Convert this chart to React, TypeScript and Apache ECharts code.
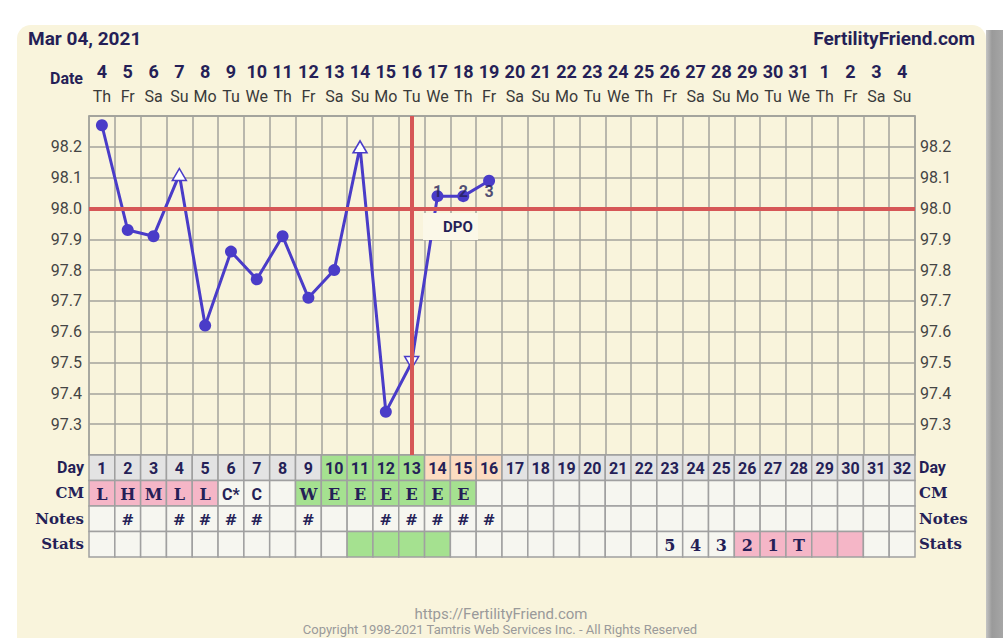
import React, { useEffect, useRef } from 'react';
import * as echarts from 'echarts';

const NAVY = '#251f57';
const SLAB = "'DejaVu Serif', serif";
const SANS = "Roboto, 'Noto Sans', sans-serif";

const dateNumbers = ['4','5','6','7','8','9','10','11','12','13','14','15','16','17','18','19','20','21','22','23','24','25','26','27','28','29','30','31','1','2','3','4'];
const weekdays = ['Th','Fr','Sa','Su','Mo','Tu','We','Th','Fr','Sa','Su','Mo','Tu','We','Th','Fr','Sa','Su','Mo','Tu','We','Th','Fr','Sa','Su','Mo','Tu','We','Th','Fr','Sa','Su'];
const cycleDays = ['1','2','3','4','5','6','7','8','9','10','11','12','13','14','15','16','17','18','19','20','21','22','23','24','25','26','27','28','29','30','31','32'];

const temperatures = [98.27, 97.93, 97.91, 98.11, 97.62, 97.86, 97.77, 97.91, 97.71, 97.80, 98.20, 97.34, 97.50, 98.04, 98.04, 98.09];
const openUpDays = [4, 11];
const openDownDays = [13];
const coverline = 98.0;
const ovulationDay = 13;
const dpoDays = [14, 15, 16];
const dpoLabels = ['1', '2', '3'];
const dpoLabelLevel = 98.055;
const tempMin = 97.2;
const tempMax = 98.3;
const tempStep = 0.1;

const rowLabels = ['Day', 'CM', 'Notes', 'Stats'];
const cmValues = ['L','H','M','L','L','C*','C','','W','E','E','E','E','E','E','','','','','','','','','','','','','','','','',''];
const cmPeriodDays = [1, 2, 3, 4, 5];
const cmFertileDays = [9, 10, 11, 12, 13, 14, 15];
const notesDays = [2, 4, 5, 6, 7, 9, 12, 13, 14, 15, 16];
const fertileDays = [10, 11, 12, 13];
const postOvDays = [14, 15, 16];
const statsFertileDays = [11, 12, 13, 14];
const statsPeriodDays = [26, 27, 28, 29, 30];
const statsCountDays = [23, 24, 25, 26, 27, 28];
const statsCountLabels = ['5', '4', '3', '2', '1', 'T'];

const C_PLAIN = '#f6f6f0';
const C_GRAY = '#e3e3e3';
const C_GREEN = '#a5e190';
const C_PINK = '#f5b6c7';
const C_PEACH = '#fcdcc1';
const LINE = '#4a3cc8';
const RED = '#d65757';
const GRIDC = '#a3a39c';

type Cell = { col: number; row: number; text: string; fill: string; font: string };

function buildCells(): Cell[] {
  const cells: Cell[] = [];
  const slab = (s: number) => `bold ${s}px ${SLAB}`;
  for (let i = 0; i < 32; i++) {
    const d = i + 1;
    let fill = C_GRAY;
    if (fertileDays.includes(d)) fill = C_GREEN;
    else if (postOvDays.includes(d)) fill = C_PEACH;
    cells.push({ col: i, row: 0, text: cycleDays[i], fill, font: `bold 16px ${SANS}` });

    let cf = C_PLAIN;
    if (cmPeriodDays.includes(d)) cf = C_PINK;
    else if (cmFertileDays.includes(d)) cf = C_GREEN;
    cells.push({ col: i, row: 1, text: cmValues[i], fill: cf, font: cmValues[i].startsWith('C') ? `bold 16px ${SANS}` : slab(16) });

    cells.push({ col: i, row: 2, text: notesDays.includes(d) ? '#' : '', fill: C_PLAIN, font: slab(15) });

    let sf = C_PLAIN;
    if (statsFertileDays.includes(d)) sf = C_GREEN;
    else if (statsPeriodDays.includes(d)) sf = C_PINK;
    const k = statsCountDays.indexOf(d);
    cells.push({ col: i, row: 3, text: k >= 0 ? statsCountLabels[k] : '', fill: sf, font: slab(16) });
  }
  return cells;
}

export default function App() {
  const ref = useRef<HTMLDivElement>(null);
  useEffect(() => {
    if (!ref.current) return;
    const chart = echarts.init(ref.current, undefined, { renderer: 'svg' });
    const cells = buildCells();

    const lineData = temperatures.map((v, i) => {
      const d = i + 1;
      if (openUpDays.includes(d) || openDownDays.includes(d)) {
        return {
          value: v,
          symbol: 'triangle',
          symbolSize: [14, 12],
          symbolRotate: openDownDays.includes(d) ? 180 : 0,
          itemStyle: { color: '#ffffff', borderColor: LINE, borderWidth: 1.5 },
        };
      }
      return { value: v };
    });

    const tempLabel = (v: number) =>
      v < tempMin + tempStep / 2 || v > tempMax - tempStep / 2 ? '' : v.toFixed(1);

    const rowRich = {
      day: { fontFamily: SANS, fontWeight: 'bold', fontSize: 16, color: NAVY },
      slab: { fontFamily: SLAB, fontWeight: 'bold', fontSize: 15, color: NAVY, letterSpacing: -0.5 },
    };
    const rowFormatter = (v: string) => (v === 'Day' ? `{day|${v}}` : `{slab|${v}}`);

    const option: any = {
      animation: false,
      backgroundColor: '#ffffff',
      grid: [
        { left: 89, top: 116, width: 826, height: 339, show: true, borderColor: GRIDC, borderWidth: 1.5, backgroundColor: 'transparent' },
        { left: 89, top: 455, width: 826, height: 102 },
      ],
      xAxis: [
        {
          type: 'category',
          gridIndex: 0,
          position: 'top',
          data: cycleDays,
          boundaryGap: true,
          axisTick: { show: false },
          axisLine: { show: true, lineStyle: { color: GRIDC, width: 1.5 } },
          splitLine: { show: true, interval: 0, lineStyle: { color: GRIDC, width: 1.5 } },
          axisLabel: {
            interval: 0,
            margin: 7,
            formatter: (_v: string, i: number) => `{d|${dateNumbers[i]}}\n{w|${weekdays[i]}}`,
            rich: {
              d: { fontFamily: SANS, fontWeight: 'bold', fontSize: 18, color: NAVY, lineHeight: 25 },
              w: { fontFamily: SANS, fontSize: 16, color: '#3a3a3a', lineHeight: 25 },
            },
          },
        },
        {
          type: 'category',
          gridIndex: 1,
          data: cycleDays,
          show: false,
        },
      ],
      yAxis: [
        {
          type: 'value', gridIndex: 0, min: tempMin, max: tempMax, interval: tempStep, position: 'left',
          axisLine: { show: false }, axisTick: { show: false },
          splitLine: { show: true, lineStyle: { color: GRIDC, width: 1.5 } },
          axisLabel: { margin: 7, formatter: tempLabel, fontFamily: SANS, fontSize: 16, color: '#444' },
        },
        {
          type: 'value', gridIndex: 0, min: tempMin, max: tempMax, interval: tempStep, position: 'right',
          axisLine: { show: false }, axisTick: { show: false }, splitLine: { show: false },
          axisLabel: { margin: 5, formatter: tempLabel, fontFamily: SANS, fontSize: 16, color: '#444' },
        },
        {
          type: 'category', gridIndex: 1, data: rowLabels, inverse: true, position: 'left',
          axisLine: { show: false }, axisTick: { show: false },
          axisLabel: { margin: 5, formatter: rowFormatter, rich: rowRich },
        },
        {
          type: 'category', gridIndex: 1, data: rowLabels, inverse: true, position: 'right',
          axisLine: { show: false }, axisTick: { show: false },
          axisLabel: { margin: 4, formatter: rowFormatter, rich: rowRich },
        },
      ],
      series: [
        {
          type: 'line',
          xAxisIndex: 0,
          yAxisIndex: 0,
          data: lineData,
          symbol: 'circle',
          symbolSize: 12,
          showAllSymbol: true,
          lineStyle: { color: LINE, width: 3 },
          itemStyle: { color: LINE },
          z: 3,
          markLine: {
            silent: true,
            symbol: ['none', 'none'],
            label: { show: false },
            lineStyle: { color: RED, width: 4, type: 'solid' },
            data: [{ yAxis: coverline }, { xAxis: String(ovulationDay) }],
          },
        },
        {
          type: 'scatter',
          xAxisIndex: 0,
          yAxisIndex: 0,
          symbolSize: 0,
          z: 6,
          data: dpoDays.map((d) => [String(d), dpoLabelLevel]),
          label: {
            show: true,
            position: 'inside',
            formatter: (p: any) => dpoLabels[p.dataIndex],
            fontFamily: SANS,
            fontWeight: 'bold',
            fontSize: 16,
            color: NAVY,
          },
        },
        {
          type: 'custom',
          xAxisIndex: 1,
          yAxisIndex: 2,
          data: cells.map((c) => [c.col, c.row]),
          renderItem: (params: any, api: any) => {
            const cell = cells[params.dataIndex];
            const pt = api.coord([api.value(0), api.value(1)]);
            const sz = api.size([1, 1]);
            return {
              type: 'group',
              children: [
                {
                  type: 'rect',
                  shape: { x: pt[0] - sz[0] / 2, y: pt[1] - sz[1] / 2, width: sz[0], height: sz[1] },
                  style: { fill: cell.fill, stroke: '#a0a0a0', lineWidth: 1.5 },
                },
                {
                  type: 'text',
                  style: {
                    text: cell.text, x: pt[0], y: pt[1] + 1,
                    align: 'center', verticalAlign: 'middle', textAlign: 'center', textVerticalAlign: 'middle',
                    font: cell.font, fill: NAVY,
                  },
                },
              ],
            };
          },
        },
      ],
      graphic: [
        {
          type: 'rect', z: -10,
          shape: { x: 986, y: 30, width: 17, height: 620 },
          style: {
            fill: { type: 'linear', x: 0, y: 0, x2: 1, y2: 0, colorStops: [
              { offset: 0, color: '#c4c4c4' }, { offset: 0.35, color: '#9a9a9a' }, { offset: 1, color: '#a6a6a6' },
            ] },
          },
        },
        {
          type: 'rect', z: -9,
          shape: { x: 17, y: 25, width: 969, height: 700, r: [14, 14, 0, 0] },
          style: { fill: '#f9f4dc' },
        },
        {
          type: 'text', z: 10,
          style: { text: 'Mar 04, 2021', x: 28, y: 38, align: 'left', verticalAlign: 'middle', textAlign: 'left', textVerticalAlign: 'middle', font: `bold 19px ${SANS}`, fill: NAVY },
        },
        {
          type: 'text', z: 10,
          style: { text: 'FertilityFriend.com', x: 975, y: 38, align: 'right', verticalAlign: 'middle', textAlign: 'right', textVerticalAlign: 'middle', font: `bold 19px ${SANS}`, fill: NAVY },
        },
        {
          type: 'text', z: 10,
          style: { text: 'Date', x: 83, y: 78, align: 'right', verticalAlign: 'middle', textAlign: 'right', textVerticalAlign: 'middle', font: `bold 16px ${SANS}`, fill: NAVY },
        },
        {
          type: 'rect', z: 50,
          shape: { x: 423, y: 213, width: 55, height: 27 },
          style: { fill: '#fbf8e8' },
        },
        {
          type: 'text', z: 51,
          style: { text: 'DPO', x: 458, y: 227, align: 'center', verticalAlign: 'middle', textAlign: 'center', textVerticalAlign: 'middle', font: `bold 15px ${SANS}`, fill: NAVY },
        },
        {
          type: 'text', z: 10,
          style: { text: 'https://FertilityFriend.com', x: 501, y: 614, align: 'center', verticalAlign: 'middle', textAlign: 'center', textVerticalAlign: 'middle', font: `15px ${SANS}`, fill: '#9a9a9a' },
        },
        {
          type: 'text', z: 10,
          style: { text: 'Copyright 1998-2021 Tamtris Web Services Inc. - All Rights Reserved', x: 500, y: 629, align: 'center', verticalAlign: 'middle', textAlign: 'center', textVerticalAlign: 'middle', font: `13px ${SANS}`, fill: '#9a9a9a' },
        },
      ],
    };
    chart.setOption(option);
    return () => chart.dispose();
  }, []);
  return <div ref={ref} style={{ position: 'fixed', left: 0, top: 0, width: 1003, height: 638 }} />;
}
